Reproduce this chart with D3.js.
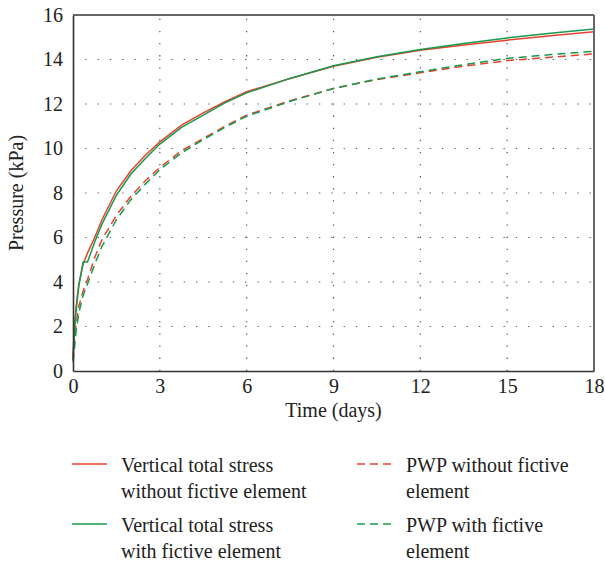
<!DOCTYPE html>
<html>
<head>
<meta charset="utf-8">
<script src="https://cdn.jsdelivr.net/npm/d3@7"></script>
<style>
  body { margin: 0; background: #fff; }
</style>
</head>
<body>
<svg id="chart" width="605" height="563"></svg>
<script>
// time axis (days), shared by all series
const days = [0, 0.05, 0.1, 0.2, 0.35, 0.5, 0.75, 1, 1.5, 2, 2.5, 3, 3.75, 4.5, 5.25, 6, 7.5, 9, 10.5, 12, 13.5, 15, 16.5, 18];

// vertical total stress (kPa)
const vtsWithout = [0.6, 2.0, 2.8, 3.9, 4.8, 5.3, 6.0, 6.8, 8.1, 9.0, 9.7, 10.3, 11.05, 11.6, 12.1, 12.55, 13.15, 13.7, 14.1, 14.42, 14.65, 14.87, 15.07, 15.25];
const vtsWith = [0.5, 1.8, 2.6, 3.8, 4.9, 4.9, 5.8, 6.6, 7.9, 8.85, 9.55, 10.2, 10.95, 11.5, 12.05, 12.5, 13.15, 13.72, 14.12, 14.45, 14.72, 14.97, 15.18, 15.37];

// pore water pressure (kPa)
const pwpWithout = [0.5, 1.4, 2.0, 2.9, 3.6, 4.1, 5.1, 5.9, 7.0, 7.85, 8.55, 9.15, 9.9, 10.45, 11.0, 11.5, 12.15, 12.7, 13.1, 13.4, 13.7, 13.95, 14.1, 14.25];
const pwpWith = [0.4, 1.0, 1.7, 2.6, 3.4, 3.9, 4.8, 5.6, 6.8, 7.7, 8.4, 9.05, 9.8, 10.4, 10.95, 11.45, 12.12, 12.7, 13.12, 13.45, 13.77, 14.05, 14.22, 14.37];

const xTicks = [0, 3, 6, 9, 12, 15, 18];
const yTicks = [0, 2, 4, 6, 8, 10, 12, 14, 16];

const series = [
    {name: ['Vertical total stress', 'without fictive element'], values: vtsWithout, color: '#e8412c', dash: null},
    {name: ['PWP without fictive', 'element'], values: pwpWithout, color: '#e8412c', dash: '8 5'},
    {name: ['Vertical total stress', 'with fictive element'], values: vtsWith, color: '#179a4e', dash: null},
    {name: ['PWP with fictive', 'element'], values: pwpWith, color: '#179a4e', dash: '8 5'},
];

const font = '"Liberation Serif", "Times New Roman", serif';
const fontSize = 20;
const margin = {left: 73, right: 11, top: 15, bottom: 192};
const width = 605 - margin.left - margin.right;
const height = 563 - margin.top - margin.bottom;

const svg = d3.select('#chart');
const g = svg.append('g').attr('transform', `translate(${margin.left},${margin.top})`);

const x = d3.scaleLinear().domain([0, 18]).range([0, width]);
const y = d3.scaleLinear().domain([0, 16]).range([height, 0]);

// dotted grid
g.append('g')
    .selectAll('line')
    .data(yTicks.slice(1, -1))
    .join('line')
    .attr('x1', 0).attr('x2', width)
    .attr('y1', d => y(d)).attr('y2', d => y(d))
    .attr('stroke', '#555')
    .attr('stroke-width', 1.2)
    .attr('stroke-dasharray', '1.3 11');

g.append('g')
    .selectAll('line')
    .data(xTicks.slice(1, -1))
    .join('line')
    .attr('x1', d => x(d)).attr('x2', d => x(d))
    .attr('y1', height).attr('y2', 0)
    .attr('stroke', '#555')
    .attr('stroke-width', 1.2)
    .attr('stroke-dasharray', '1.3 10.8');

// series lines
const line = d3.line()
    .x((d, i) => x(days[i]))
    .y(d => y(d));

g.append('g')
    .selectAll('path')
    .data(series)
    .join('path')
    .attr('fill', 'none')
    .attr('stroke', d => d.color)
    .attr('stroke-width', 1.5)
    .attr('stroke-dasharray', d => d.dash)
    .attr('d', d => line(d.values));

// frame: top and right in grey, left and bottom darker
g.append('line').attr('x1', 0).attr('x2', width).attr('y1', 0).attr('y2', 0)
    .attr('stroke', '#666').attr('stroke-width', 2);
g.append('line').attr('x1', width).attr('x2', width).attr('y1', 0).attr('y2', height)
    .attr('stroke', '#666').attr('stroke-width', 2);

const xAxis = g.append('g')
    .attr('transform', `translate(0,${height})`)
    .call(d3.axisBottom(x).tickValues(xTicks).tickSize(0).tickPadding(8));
const yAxis = g.append('g')
    .call(d3.axisLeft(y).tickValues(yTicks).tickSize(0).tickPadding(10));

[xAxis, yAxis].forEach(a => {
    a.attr('font-family', null).attr('font-size', null);
    a.select('.domain').attr('stroke', '#333').attr('stroke-width', 1.6);
    a.selectAll('text')
        .style('font-family', font)
        .style('font-size', fontSize + 'px')
        .attr('fill', '#222');
});

// axis titles
g.append('text')
    .attr('x', width / 2)
    .attr('y', height + 46)
    .attr('text-anchor', 'middle')
    .style('font-family', font)
    .style('font-size', fontSize + 'px')
    .attr('fill', '#222')
    .text('Time (days)');

g.append('text')
    .attr('transform', `translate(${-50},${height / 2}) rotate(-90)`)
    .attr('text-anchor', 'middle')
    .style('font-family', font)
    .style('font-size', fontSize + 'px')
    .attr('fill', '#222')
    .text('Pressure (kPa)');

// legend, two columns
const legend = svg.append('g');
const cols = [72, 357];
const rows = [464, 524];

const items = legend.selectAll('g')
    .data(series)
    .join('g')
    .attr('transform', (d, i) => `translate(${cols[i % 2]},${rows[Math.floor(i / 2)]})`);

items.append('line')
    .attr('x1', 0).attr('x2', 35)
    .attr('y1', 0).attr('y2', 0)
    .attr('stroke', d => d.color)
    .attr('stroke-width', 1.5)
    .attr('stroke-dasharray', d => d.dash);

items.append('text')
    .style('font-family', font)
    .style('font-size', fontSize + 'px')
    .attr('fill', '#222')
    .selectAll('tspan')
    .data(d => d.name)
    .join('tspan')
    .attr('x', 49)
    .attr('y', (d, i) => 8 + i * 26)
    .text(d => d);
</script>
</body>
</html>
